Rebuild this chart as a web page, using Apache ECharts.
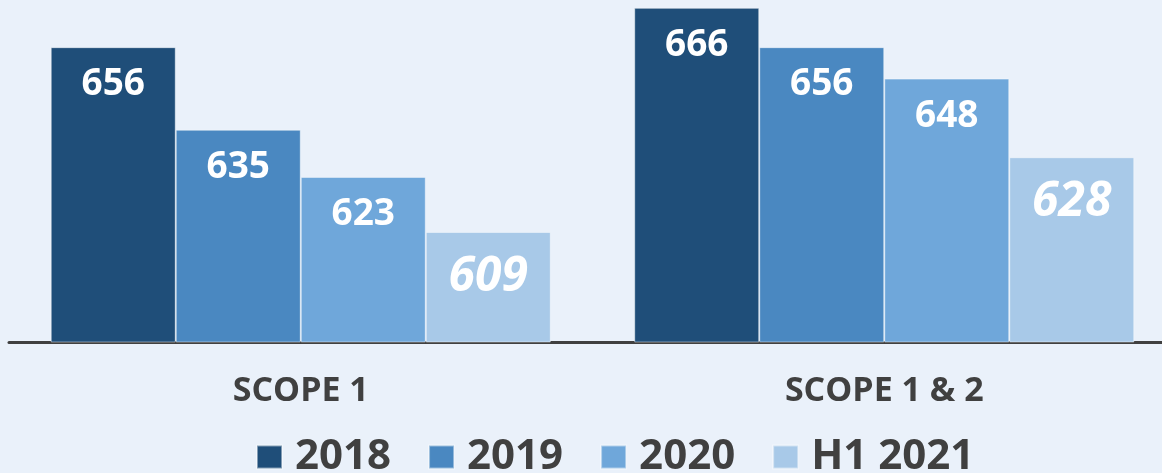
<!DOCTYPE html>
<html>
<head>
<meta charset="utf-8">
<script src="https://cdn.jsdelivr.net/npm/echarts@6/dist/echarts.min.js"></script>
<style>
  html, body { margin: 0; padding: 0; background: #eaf1fa; }
  #chart { width: 1162px; height: 473px; }
</style>
</head>
<body>
<div id="chart"></div>
<script>
const categories = ['SCOPE 1', 'SCOPE 1 & 2'];
const seriesNames = ['2018', '2019', '2020', 'H1 2021'];
const values2018 = [656, 666];
const values2019 = [635, 656];
const values2020 = [623, 648];
const valuesH12021 = [609, 628];

const colors = ['#1f4e79', '#4a88c1', '#6fa7da', '#a8c9e8'];
const font = '"Open Sans", "Noto Sans", sans-serif';

const chart = echarts.init(document.getElementById('chart'));

// plain label for full years, bigger italic one for the half year
const makeLabel = (italic) => ({
  show: true,
  position: 'insideTop',
  distance: italic ? 21 : 19,
  color: '#ffffff',
  fontFamily: font,
  fontWeight: 'bold',
  fontStyle: italic ? 'italic' : 'normal',
  fontSize: italic ? 48 : 37
});

const seriesData = [values2018, values2019, values2020, valuesH12021];

const option = {
  backgroundColor: '#eaf1fa',
  animation: false,
  color: colors,
  // the plot runs past the right edge in the original, so let it overflow
  grid: { left: 9, width: 1167, top: 0, bottom: 131, outerBoundsMode: 'none', containLabel: false },
  legend: {
    top: 436,
    left: 256,
    padding: 0,
    icon: 'rect',
    itemWidth: 25,
    itemHeight: 23,
    itemGap: 37,
    data: seriesNames,
    textStyle: {
      color: '#404040',
      fontFamily: font,
      fontWeight: 'bold',
      fontSize: 42,
      padding: [0, 0, 0, 8]
    }
  },
  xAxis: {
    type: 'category',
    data: categories,
    axisLine: { lineStyle: { color: '#404040', width: 3 } },
    axisTick: { show: false },
    axisLabel: {
      color: '#404040',
      fontFamily: font,
      fontWeight: 'bold',
      fontSize: 34,
      margin: 32
    }
  },
  yAxis: {
    type: 'value',
    min: 581,
    max: 668,
    show: false,
    splitLine: { show: false }
  },
  series: seriesNames.map((name, i) => ({
    name: name,
    type: 'bar',
    data: seriesData[i],
    barGap: '0%',
    barCategoryGap: '14.3%',
    itemStyle: { borderColor: 'rgba(255,255,255,0.45)', borderWidth: 1 },
    label: makeLabel(i === 3)
  }))
};

chart.setOption(option);
</script>
</body>
</html>
